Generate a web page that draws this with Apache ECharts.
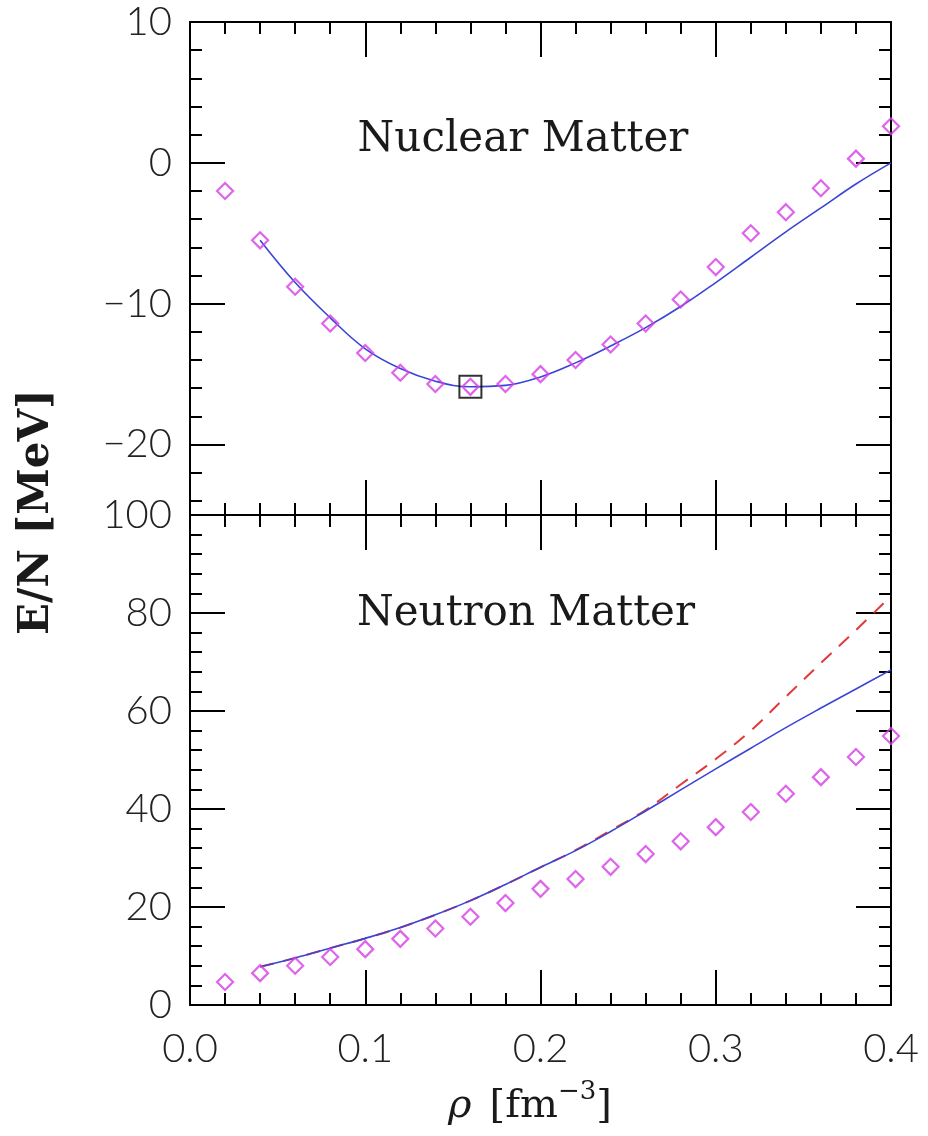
<!DOCTYPE html>
<html>
<head>
<meta charset="utf-8">
<script src="https://cdn.jsdelivr.net/npm/echarts@6/dist/echarts.min.js"></script>
<style>html,body{margin:0;padding:0;background:#fff;}#c{width:928px;height:1136px;}</style>
</head>
<body>
<div id="c"></div>
<script>
// density grid (fm^-3)
const rho = [0.02,0.04,0.06,0.08,0.10,0.12,0.14,0.16,0.18,0.20,0.22,0.24,0.26,0.28,0.30,0.32,0.34,0.36,0.38,0.40];
// Nuclear matter: diamonds
const nucDiamonds = [-2.0,-5.5,-8.8,-11.4,-13.5,-14.9,-15.7,-15.9,-15.7,-15.0,-14.0,-12.9,-11.4,-9.7,-7.4,-5.0,-3.5,-1.8,0.3,2.6];
// Nuclear matter: solid curve (from 0.04)
const lineRho = [0.04,0.06,0.08,0.10,0.12,0.14,0.16,0.18,0.20,0.22,0.24,0.26,0.28,0.30,0.32,0.34,0.36,0.38,0.40];
const nucLine = [-5.5,-8.5,-11.0,-13.2,-14.6,-15.5,-15.9,-15.8,-15.2,-14.2,-13.0,-11.7,-10.2,-8.5,-6.7,-4.9,-3.2,-1.5,0.0];
// saturation point box
const satPoint = [0.16, -15.9];
// Neutron matter: diamonds
const neuDiamonds = [4.7,6.5,8.0,9.8,11.4,13.5,15.6,18.0,20.8,23.7,25.7,28.2,30.8,33.4,36.3,39.4,43.1,46.5,50.6,54.9];
// Neutron matter: solid and dashed curves (from 0.04)
const neuSolid = [7.8,9.6,11.6,13.6,15.8,18.4,21.3,24.6,28.1,31.5,35.4,39.6,43.9,48.2,52.4,56.6,60.6,64.5,68.4];
const neuDashed = [7.8,9.6,11.6,13.6,15.8,18.4,21.3,24.6,28.1,31.6,35.6,39.8,45.0,50.2,56.0,62.9,69.8,76.5,83.5];
// tick values
const topMajor = [-20,-10,0,10];
const topMinor = [-24,-22,-18,-16,-14,-12,-8,-6,-4,-2,2,4,6,8];

const pairs = (xs, ys) => xs.map((x, i) => [x, ys[i]]);

const LABEL_FONT = { fontFamily: 'Lato', fontWeight: 300, fontSize: 40, color: '#222' };
const AXLINE = { show: true, onZero: false, lineStyle: { color: '#000', width: 2 } };
const NOLINE = { show: false, onZero: false };
const TICK = { color: '#000', width: 2 };

function xAx(grid, pos, labels) {
  return {
    type: 'value', gridIndex: grid, position: pos, min: 0, max: 0.4, interval: 0.1,
    axisLine: AXLINE,
    axisTick: { show: true, inside: true, length: 35, lineStyle: TICK },
    minorTick: { show: true, splitNumber: 5, length: 12, lineStyle: TICK },
    splitLine: { show: false }, minorSplitLine: { show: false },
    axisLabel: labels ? Object.assign({ show: true, margin: 24, formatter: v => v.toFixed(1) }, LABEL_FONT) : { show: false }
  };
}
const fmtMinus = v => String(v).replace('-', '\u2212');

function topY(pos, major, withLabels) {
  return {
    type: 'value', gridIndex: 0, position: pos, min: -25, max: 10,
    axisLine: major ? AXLINE : NOLINE,
    axisTick: { show: true, inside: true, length: major ? 35 : 12, customValues: major ? topMajor : topMinor, lineStyle: TICK },
    axisLabel: withLabels ? Object.assign({ show: true, margin: 18, customValues: topMajor, formatter: fmtMinus }, LABEL_FONT) : { show: false },
    splitLine: { show: false }
  };
}
function botY(pos, withLabels) {
  return {
    type: 'value', gridIndex: 1, position: pos, min: 0, max: 100, interval: 20,
    axisLine: AXLINE,
    axisTick: { show: true, inside: true, length: 35, lineStyle: TICK },
    minorTick: { show: true, splitNumber: 5, length: 12, lineStyle: TICK },
    axisLabel: withLabels ? Object.assign({ show: true, margin: 18 }, LABEL_FONT) : { show: false },
    splitLine: { show: false }, minorSplitLine: { show: false }
  };
}

const DIAMOND = { color: 'rgba(0,0,0,0)', borderColor: '#d63ee6', borderWidth: 2.2 };

const option = {
  animation: false,
  backgroundColor: '#fff',
  grid: [
    { left: 190, top: 22, width: 701, height: 493, containLabel: false, outerBoundsMode: 'none' },
    { left: 190, top: 515, width: 701, height: 490, containLabel: false, outerBoundsMode: 'none' }
  ],
  xAxis: [ xAx(0, 'bottom', false), xAx(0, 'top', false), xAx(1, 'top', false), xAx(1, 'bottom', true) ],
  yAxis: [ topY('left', true, true), topY('left', false, false), topY('right', true, false), topY('right', false, false),
           botY('left', true), botY('right', false) ],
  series: [
    { type: 'line', xAxisIndex: 0, yAxisIndex: 0, data: pairs(lineRho, nucLine), smooth: 0.4,
      showSymbol: false, lineStyle: { color: '#3a45d6', width: 1.6 }, z: 2 },
    { type: 'scatter', xAxisIndex: 0, yAxisIndex: 0, data: pairs(rho, nucDiamonds), symbol: 'diamond',
      symbolSize: 16, itemStyle: DIAMOND, z: 3 },
    { type: 'scatter', xAxisIndex: 0, yAxisIndex: 0, data: [satPoint], symbol: 'rect',
      symbolSize: 22, itemStyle: { color: 'rgba(0,0,0,0)', borderColor: '#000', borderWidth: 2 }, z: 4 },
    { type: 'line', xAxisIndex: 3, yAxisIndex: 4, data: pairs(lineRho, neuDashed), smooth: 0.4,
      showSymbol: false, lineStyle: { color: '#e03a3a', width: 2, type: [14, 10] }, z: 2 },
    { type: 'line', xAxisIndex: 3, yAxisIndex: 4, data: pairs(lineRho, neuSolid), smooth: 0.4,
      showSymbol: false, lineStyle: { color: '#3a45d6', width: 1.6 }, z: 2 },
    { type: 'scatter', xAxisIndex: 3, yAxisIndex: 4, data: pairs(rho, neuDiamonds), symbol: 'diamond',
      symbolSize: 16, itemStyle: DIAMOND, z: 3 }
  ],
  graphic: [
    { type: 'text', x: 523, y: 140, style: { text: 'Nuclear Matter', fontFamily: 'DejaVu Serif', fontSize: 42,
      fill: '#1a1a1a', textAlign: 'center', textVerticalAlign: 'middle' } },
    { type: 'text', x: 526, y: 614, style: { text: 'Neutron Matter', fontFamily: 'DejaVu Serif', fontSize: 42,
      fill: '#1a1a1a', textAlign: 'center', textVerticalAlign: 'middle' } },
    { type: 'text', x: 37, y: 512, rotation: Math.PI / 2, style: { text: 'E/N [MeV]', fontFamily: 'DejaVu Serif', fontSize: 42,
      fontWeight: 'bold', fill: '#1a1a1a', textAlign: 'center', textVerticalAlign: 'middle' } },
    { type: 'text', x: 530, y: 1107, style: {
      text: '{r|ρ}{sp| }{b|[fm}{s|\u22123}{b|]}',
      textAlign: 'center', textVerticalAlign: 'middle', fill: '#1a1a1a',
      rich: {
        r: { fontFamily: 'DejaVu Serif', fontStyle: 'italic', fontSize: 40, fill: '#1a1a1a' },
        sp: { fontFamily: 'DejaVu Serif', fontSize: 40, width: 18 },
        b: { fontFamily: 'DejaVu Serif', fontSize: 40, fill: '#1a1a1a' },
        s: { fontFamily: 'DejaVu Serif', fontSize: 26, fill: '#1a1a1a', padding: [0, 0, 30, 0] }
      } } }
  ]
};
const chart = echarts.init(document.getElementById('c'), null, { renderer: 'canvas' });
chart.setOption(option);
</script>
</body>
</html>
